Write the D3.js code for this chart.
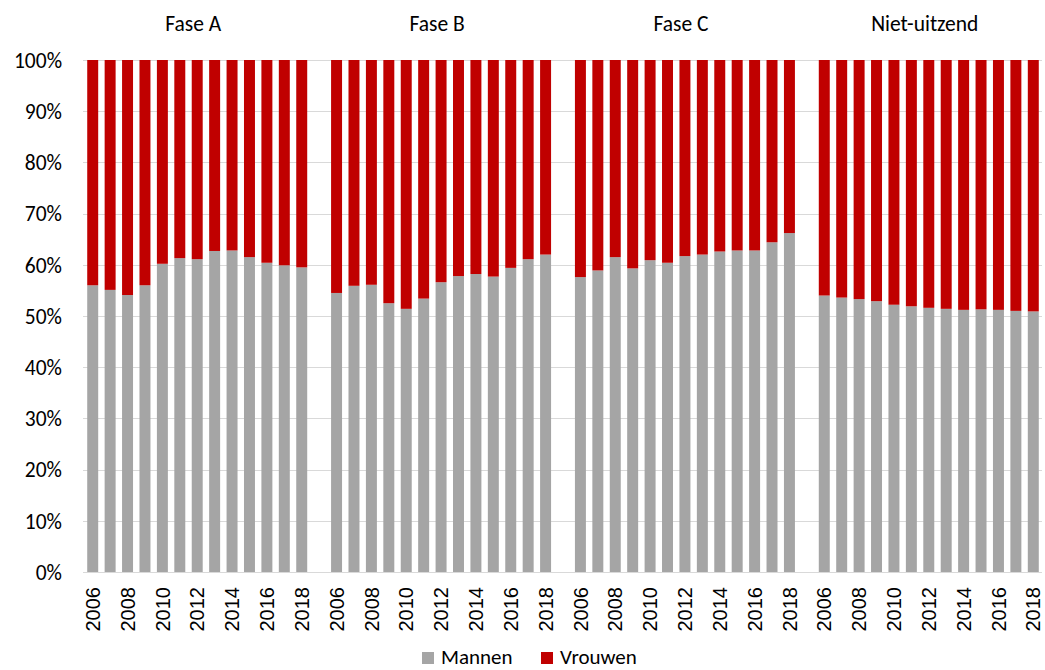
<!DOCTYPE html>
<html><head><meta charset="utf-8">
<script src="https://cdn.jsdelivr.net/npm/d3@7"></script>
<style>body{margin:0;background:#fff}svg{display:block}</style>
</head><body>
<svg id="c" width="1045" height="670"></svg>
<script>
const groups = ["Fase A", "Fase B", "Fase C", "Niet-uitzend"];
const years = [2006,2007,2008,2009,2010,2011,2012,2013,2014,2015,2016,2017,2018];
const yearLabels = ["2006","2008","2010","2012","2014","2016","2018"];
const mannenFaseA = [56.0,55.1,54.1,56.0,60.2,61.3,61.1,62.7,62.8,61.5,60.4,59.9,59.5];
const mannenFaseB = [54.5,55.9,56.1,52.5,51.4,53.4,56.6,57.8,58.2,57.7,59.4,61.1,62.0];
const mannenFaseC = [57.6,58.9,61.5,59.3,60.9,60.4,61.7,62.0,62.6,62.8,62.8,64.4,66.2];
const mannenNiet  = [54.0,53.6,53.3,52.9,52.2,51.9,51.6,51.4,51.2,51.3,51.2,51.0,50.9];
const yTicks = [0,10,20,30,40,50,60,70,80,90,100];
const seriesNames = ["Mannen","Vrouwen"];
const colors = {Mannen:"#a5a5a5", Vrouwen:"#c00000"};

const mannen = [mannenFaseA, mannenFaseB, mannenFaseC, mannenNiet];
const rows = [];
const domain = [];
groups.forEach((g,gi)=>{
  if(gi>0) domain.push("gap"+gi);
  years.forEach((y,yi)=>{
    const key = g+"|"+y;
    domain.push(key);
    rows.push({key, group:g, year:y, Mannen:mannen[gi][yi], Vrouwen:100-mannen[gi][yi]});
  });
});

const svg = d3.select("#c");
const L=84, R=1042, T=60, B=572;
const x = d3.scaleBand().domain(domain).range([L,R]).paddingInner(0.37).paddingOuter(0.185);
const y = d3.scaleLinear().domain([0,100]).range([B,T]);
const font = "Carlito, Calibri, Lato, 'Open Sans', sans-serif";

// gridlines
svg.append("g").selectAll("line").data(yTicks.filter(d=>d>0)).join("line")
  .attr("x1",L-1).attr("x2",R).attr("y1",d=>Math.round(y(d))+0.5).attr("y2",d=>Math.round(y(d))+0.5)
  .attr("stroke","#d9d9d9").attr("stroke-width",1);

// y labels
svg.append("g").selectAll("text").data(yTicks).join("text")
  .attr("x",62).attr("y",d=>y(d)).attr("dy","0.36em").attr("text-anchor","end")
  .attr("font-family",font).attr("font-size",21.5).attr("fill","#000")
  .text(d=>d+"%");

// stacked bars
const stack = d3.stack().keys(seriesNames)(rows);
svg.append("g").selectAll("g").data(stack).join("g")
  .attr("fill",d=>colors[d.key])
  .selectAll("rect").data(d=>d).join("rect")
  .attr("x",d=>x(d.data.key)).attr("width",x.bandwidth())
  .attr("y",d=>y(d[1])).attr("height",d=>y(d[0])-y(d[1]));

// axis line
svg.append("line").attr("x1",L-1).attr("x2",R).attr("y1",B+0.5).attr("y2",B+0.5)
  .attr("stroke","#d9d9d9");

// x labels
const labRows = rows.filter(r=>yearLabels.includes(String(r.year)));
svg.append("g").selectAll("text").data(labRows).join("text")
  .attr("transform",d=>`translate(${x(d.key)+x.bandwidth()/2},${B+15}) rotate(-90)`)
  .attr("text-anchor","end").attr("dy","0.36em")
  .attr("font-family","'Liberation Sans', Arial, sans-serif").attr("font-size",20).attr("fill","#000")
  .text(d=>d.year);

// group titles
svg.append("g").selectAll("text").data(groups).join("text")
  .attr("x",g=>{const a=x(g+"|"+years[0]), b=x(g+"|"+years[years.length-1])+x.bandwidth(); return (a+b)/2-4;})
  .attr("y",31).attr("text-anchor","middle")
  .attr("font-family",font).attr("font-size",21.5).attr("fill","#000")
  .text(g=>g);

// legend
const lg = svg.append("g").attr("transform","translate(422,652)");
const items = [{n:"Mannen",x:0},{n:"Vrouwen",x:119}];
items.forEach(it=>{
  lg.append("rect").attr("x",it.x).attr("y",0).attr("width",12).attr("height",12).attr("fill",colors[it.n]);
  lg.append("text").attr("x",it.x+19).attr("y",12)
    .attr("font-family",font).attr("font-size",21).attr("fill","#000").text(it.n);
});
</script>
</body></html>
